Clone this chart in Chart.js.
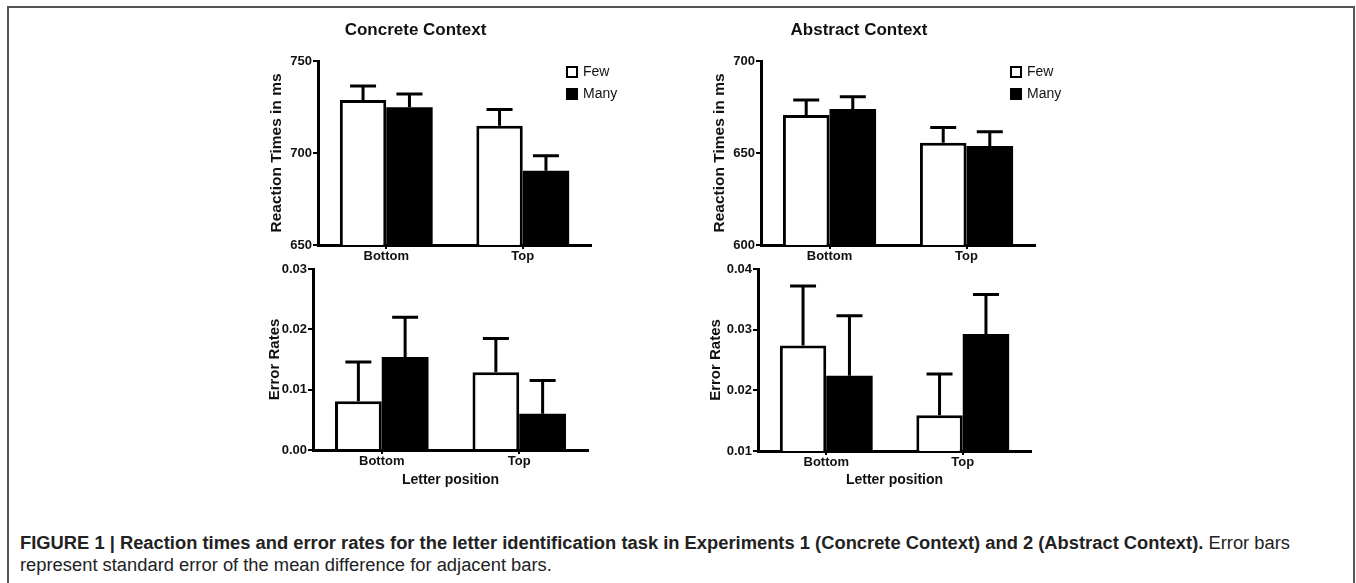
<!DOCTYPE html>
<html lang="en">
<head>
  <meta charset="UTF-8">
  <title>Figure 1 - Reaction times and error rates</title>
  <script src="https://cdn.jsdelivr.net/npm/chart.js"></script>
  <style>
    body {
      margin: 0;
      background: #fff;
      width: 1356px;
      height: 583px;
      overflow: hidden;
      position: relative;
      font-family: "Liberation Sans", Arial, sans-serif;
    }
    .frame {
      position: absolute;
      left: 7px;
      top: 6px;
      width: 1344px;
      height: 640px;
      border: 2px solid #555;
    }
    canvas { position: absolute; }
    .caption {
      position: absolute;
      left: 20px;
      font-family: "Liberation Sans", Arial, sans-serif;
      font-size: 18px;
      color: #222;
      white-space: nowrap;
      transform-origin: left center;
    }
  </style>
</head>
<body>
  <div class="frame"></div>
  <canvas id="concreteRt" width="410" height="267" style="left:240px; top:0px;"></canvas>
  <canvas id="abstractRt" width="412" height="267" style="left:683px; top:0px;"></canvas>
  <canvas id="concreteErr" width="370" height="240" style="left:240px; top:255px;"></canvas>
  <canvas id="abstractErr" width="372" height="240" style="left:683px; top:255px;"></canvas>

  <div class="caption" id="cap1" style="top:533px;"><b>FIGURE 1 | Reaction times and error rates for the letter identification task in Experiments 1 (Concrete Context) and 2 (Abstract Context).</b> Error bars</div>
  <div class="caption" id="cap2" style="top:555px;">represent standard error of the mean difference for adjacent bars.</div>

  <script>
    // data
    const categories = ["Bottom", "Top"];
    const seriesNames = ["Few", "Many"];

    const concreteRtFew = [728.8, 714.8];
    const concreteRtMany = [724.8, 690.4];
    const concreteRtFewSe = [7.6, 8.9];
    const concreteRtManySe = [7.2, 8.1];

    const abstractRtFew = [670.7, 655.6];
    const abstractRtMany = [673.9, 653.8];
    const abstractRtFewSe = [8.1, 8.2];
    const abstractRtManySe = [6.7, 7.8];

    const concreteErrFew = [0.0081, 0.0129];
    const concreteErrMany = [0.0154, 0.0060];
    const concreteErrFewSe = [0.0065, 0.0056];
    const concreteErrManySe = [0.0066, 0.0055];

    const abstractErrFew = [0.0274, 0.0159];
    const abstractErrMany = [0.0224, 0.0293];
    const abstractErrFewSe = [0.0098, 0.0068];
    const abstractErrManySe = [0.0099, 0.0065];

    const rtTicksConcrete = [650, 700, 750];
    const rtTicksAbstract = [600, 650, 700];
    const errTicksConcrete = [0.00, 0.01, 0.02, 0.03];
    const errTicksAbstract = [0.01, 0.02, 0.03, 0.04];

    const FONT = '"Liberation Sans", Arial, sans-serif';

    // upward error bars with a cap
    const errorBarPlugin = {
      id: "errorBars",
      afterDatasetsDraw(chart) {
        const ctx = chart.ctx;
        const yScale = chart.scales.y;
        ctx.save();
        ctx.strokeStyle = "#000";
        ctx.lineWidth = 3;
        chart.data.datasets.forEach((ds, i) => {
          chart.getDatasetMeta(i).data.forEach((bar, j) => {
            const top = yScale.getPixelForValue(ds.data[j] + ds.se[j]);
            ctx.beginPath();
            ctx.moveTo(bar.x, bar.y);
            ctx.lineTo(bar.x, top);
            ctx.moveTo(bar.x - 13, top);
            ctx.lineTo(bar.x + 13, top);
            ctx.stroke();
          });
        });
        ctx.restore();
      }
    };

    // small legend in the upper right corner of the plot
    const boxLegendPlugin = {
      id: "boxLegend",
      afterDraw(chart, args, opts) {
        if (!opts.show) return;
        const { ctx, chartArea } = chart;
        ctx.save();
        ctx.font = "14px " + FONT;
        ctx.textBaseline = "middle";
        chart.data.datasets.forEach((ds, i) => {
          const bx = chartArea.right - 25;
          const by = chartArea.top + 5 + i * 22;
          ctx.fillStyle = ds.backgroundColor;
          ctx.fillRect(bx, by, 12, 12);
          ctx.strokeStyle = "#000";
          ctx.lineWidth = 2;
          ctx.strokeRect(bx + 1, by + 1, 10, 10);
          ctx.fillStyle = "#111";
          ctx.fillText(ds.label, bx + 17, by + 6);
        });
        ctx.restore();
      }
    };

    function makeChart(id, c) {
      const decimals = c.ticks[1] - c.ticks[0] < 1 ? 2 : 0;
      return new Chart(document.getElementById(id), {
        type: "bar",
        data: {
          labels: categories,
          datasets: [
            { label: seriesNames[0], data: c.few, se: c.fewSe, backgroundColor: "#fff", borderColor: "#000", borderWidth: 3 },
            { label: seriesNames[1], data: c.many, se: c.manySe, backgroundColor: "#000", borderColor: "#000", borderWidth: 0 }
          ]
        },
        options: {
          responsive: false,
          animation: false,
          devicePixelRatio: 1,
          datasets: { bar: { categoryPercentage: 0.68, barPercentage: 1.0 } },
          layout: { padding: { left: 0, right: c.padRight, top: c.padTop, bottom: 0 } },
          plugins: {
            legend: { display: false },
            tooltip: { enabled: false },
            title: {
              display: !!c.title,
              text: c.title,
              color: "#111",
              font: { family: FONT, size: 17, weight: "bold" },
              padding: { top: 20, bottom: 20.6 }
            },
            boxLegend: { show: c.legend }
          },
          scales: {
            x: {
              grid: { display: true, offset: false, drawOnChartArea: false, drawTicks: true, tickLength: 4, color: "#000", lineWidth: 2 },
              border: { display: true, color: "#000", width: 3 },
              ticks: { color: "#111", padding: 0, font: { family: FONT, size: 13, weight: "bold" } },
              title: {
                display: !!c.xTitle,
                text: c.xTitle,
                color: "#111",
                font: { family: FONT, size: 14, weight: "bold" },
                padding: { top: 0, bottom: 6.6 }
              },
              afterFit: s => { s.height = c.xHeight; }
            },
            y: {
              min: c.ticks[0],
              max: c.ticks[c.ticks.length - 1],
              grid: { display: true, drawOnChartArea: false, drawTicks: true, tickLength: 5, color: "#000", lineWidth: 2 },
              border: { display: true, color: "#000", width: 3 },
              ticks: {
                color: "#111",
                padding: 1,
                font: { family: FONT, size: 13, weight: "bold" },
                callback: v => Number(v).toFixed(decimals)
              },
              afterBuildTicks: s => { s.ticks = c.ticks.map(v => ({ value: v })); },
              title: {
                display: true,
                text: c.yTitle,
                color: "#111",
                font: { family: FONT, size: c.yTitleSize, weight: "bold" },
                padding: { top: c.yTitlePad, bottom: 0 }
              },
              afterFit: s => { s.width = c.yWidth; }
            }
          }
        },
        plugins: [errorBarPlugin, boxLegendPlugin]
      });
    }

    makeChart("concreteRt", {
      title: "Concrete Context", legend: true,
      few: concreteRtFew, many: concreteRtMany, fewSe: concreteRtFewSe, manySe: concreteRtManySe,
      ticks: rtTicksConcrete, yTitle: "Reaction Times in ms", yTitleSize: 15.5, yTitlePad: 27,
      yWidth: 78, padRight: 59, padTop: 0, xHeight: 22, xTitle: ""
    });
    makeChart("abstractRt", {
      title: "Abstract Context", legend: true,
      few: abstractRtFew, many: abstractRtMany, fewSe: abstractRtFewSe, manySe: abstractRtManySe,
      ticks: rtTicksAbstract, yTitle: "Reaction Times in ms", yTitleSize: 15.5, yTitlePad: 27,
      yWidth: 78, padRight: 60, padTop: 0, xHeight: 22, xTitle: ""
    });
    makeChart("concreteErr", {
      title: "", legend: false,
      few: concreteErrFew, many: concreteErrMany, fewSe: concreteErrFewSe, manySe: concreteErrManySe,
      ticks: errTicksConcrete, yTitle: "Error Rates", yTitleSize: 15, yTitlePad: 26,
      yWidth: 73, padRight: 22, padTop: 14, xHeight: 45, xTitle: "Letter position"
    });
    makeChart("abstractErr", {
      title: "", legend: false,
      few: abstractErrFew, many: abstractErrMany, fewSe: abstractErrFewSe, manySe: abstractErrManySe,
      ticks: errTicksAbstract, yTitle: "Error Rates", yTitleSize: 15, yTitlePad: 24,
      yWidth: 75, padRight: 24, padTop: 14, xHeight: 44, xTitle: "Letter position"
    });

    // squeeze the caption to the width of the printed, condensed one
    const cap1 = document.getElementById("cap1");
    const cap2 = document.getElementById("cap2");
    const k = 1270 / cap1.getBoundingClientRect().width;
    cap1.style.transform = "scaleX(" + k + ")";
    cap2.style.transform = "scaleX(" + k + ")";
  </script>
</body>
</html>
